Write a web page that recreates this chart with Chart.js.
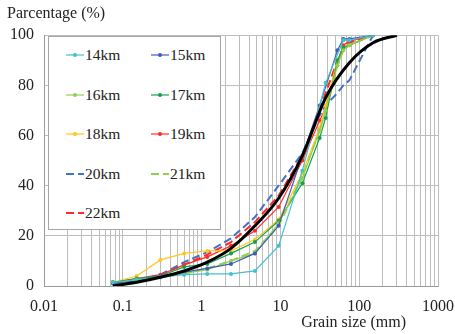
<!DOCTYPE html>
<html>
<head>
<meta charset="utf-8">
<script src="https://cdn.jsdelivr.net/npm/chart.js@4"></script>
<style>
  body { margin: 0; background: #fff; }
  #wrap { position: relative; width: 455px; height: 334px; }
  #legend { position: absolute; left: 48px; top: 36px; width: 173px; height: 194px; background: #fff;
            border: 1px solid #a6a6a6; box-sizing: border-box; }
  .item { position: absolute; height: 20px; display: flex; align-items: center;
          font-family: "Liberation Serif", serif; font-size: 15.5px; color: #222; white-space: nowrap; }
  .item svg { margin-right: 1px; }
</style>
</head>
<body>
<div id="wrap">
  <canvas id="chartGrain" width="455" height="334"></canvas>
  <div id="legend"></div>
</div>
<script>
// tamices (mm) y porcentaje que pasa
const sizes = [0.075, 0.15, 0.3, 0.6, 1.18, 2.36, 4.75, 9.5, 19, 31.5, 37.5, 53, 63, 75, 150];
const km14 = [1.5, 2.5, 3.5, 4.5, 4.8, 4.8, 6, 16, 46, null, 81, null, 98, 98, 100];
const km15 = [1, 2, 4, 5.5, 7, 8.8, 13, 24, 52, 72, null, 94, 98.5, 98.5, 100];
const km16 = [1, 2.5, 3.5, 5, 6.5, 10, 13, 25, 43, 62, 70, 88, 94, 96, 100];
const km17 = [1.5, 3, 4, 7.6, 8.8, 13, 17.5, 26, 41, 59, 67, 90, 95, 96, 100];
const km18 = [1.5, 4, 10.4, 13, 14, 14, 18.5, 26.5, 45, 63, 72, 90, 95, 96, 100];
const km19 = [1.5, 3, 4.5, 8.4, 11.6, 16, 22, 31.5, 50, 66, 71, 89, 96, 97.6, 100];
const km20 = [1, 2, 4.5, 9.5, 13.5, 19, 27.5, 40, 53, 68, 72, 77, 80, 82, 100];
const km21 = [1, 2, 3.5, 5, 7, 10, 14, 24, 44, 62, 70, 88, 94, 96, 100];
const km22 = [1, 2, 4.5, 8.5, 12.5, 17.5, 25.5, 36, 52, 70, 77, 90, 95, 97, 100];

// curva ajustada (negra)
const fitSizes = [0.075, 0.15, 0.3, 0.6, 1.18, 2.36, 4.75, 9.5, 19, 37.5, 75, 150, 300];
const fitValues = [0, 1.5, 3.5, 6, 9.5, 15, 24, 35, 52, 75, 89, 97, 100];

const seriesNames = ['14km', '15km', '16km', '17km', '18km', '19km', '20km', '21km', '22km'];
const seriesValues = [km14, km15, km16, km17, km18, km19, km20, km21, km22];
const seriesColors = ['#45c0cf', '#3f5cbc', '#92d050', '#16a04c', '#ffc81e', '#ff2a2a', '#4472c4', '#92d050', '#ff2a2a'];
const seriesDashed = [false, false, false, false, false, false, true, true, true];

const xTicks = [0.01, 0.1, 1, 10, 100, 1000];

const SERIF = '"Liberation Serif", "Times New Roman", serif';

function toPoints(xs, ys) {
  return xs.map((x, i) => ({ x, y: ys[i] })).filter(p => p.y !== null);
}

const datasets = seriesNames.map((name, i) => ({
  label: name,
  data: toPoints(sizes, seriesValues[i]),
  borderColor: seriesColors[i],
  backgroundColor: seriesColors[i],
  borderWidth: seriesDashed[i] ? 2 : 1.2,
  borderDash: seriesDashed[i] ? [8, 4] : [],
  pointRadius: seriesDashed[i] ? 0 : 2,
  pointBorderWidth: 0,
  tension: 0,
  order: 1
}));

datasets.push({
  label: 'fit',
  data: toPoints(fitSizes, fitValues),
  borderColor: '#000',
  backgroundColor: '#000',
  borderWidth: 3,
  pointRadius: 0,
  cubicInterpolationMode: 'monotone',
  order: 0
});

const ctx = document.getElementById('chartGrain');

new Chart(ctx, {
  type: 'line',
  data: { datasets },
  options: {
    responsive: false,
    animation: false,
    layout: { padding: { left: 7, right: 17, top: 0, bottom: 0 } },
    plugins: {
      legend: { display: false },
      tooltip: { enabled: false },
      title: {
        display: true,
        text: 'Parcentage (%)',
        align: 'start',
        color: '#222',
        font: { family: SERIF, size: 16, weight: 'normal' },
        padding: { top: 4, bottom: 12 }
      }
    },
    scales: {
      x: {
        type: 'logarithmic',
        min: 0.01,
        max: 1000,
        afterBuildTicks: (scale) => {
          const ticks = [];
          xTicks.forEach((p, k) => {
            ticks.push({ value: p });
            if (k < xTicks.length - 1) {
              for (let m = 2; m <= 9; m++) ticks.push({ value: m * p });
            }
          });
          scale.ticks = ticks;
        },
        afterFit: (scale) => {
          scale.height = 48;
          scale.paddingLeft = 0;
          scale.paddingRight = 0;
        },
        grid: { color: '#bdbdbd', lineWidth: 1, drawTicks: false },
        border: { color: '#9a9a9a' },
        ticks: {
          autoSkip: false,
          maxRotation: 0,
          padding: 11,
          color: '#222',
          font: { family: SERIF, size: 16 },
          callback: function(value) {
            const idx = xTicks.findIndex(p => Math.abs(p - value) < p * 1e-6);
            return idx >= 0 ? String(xTicks[idx]) : '';
          }
        },
        title: {
          display: true,
          text: 'Grain size (mm)        ',
          align: 'end',
          color: '#222',
          font: { family: SERIF, size: 16 },
          padding: { top: 1, bottom: 2 }
        }
      },
      y: {
        min: 0,
        max: 100,
        afterFit: (scale) => { scale.width = 37; },
        grid: { color: '#bdbdbd', lineWidth: 1, drawTicks: false },
        border: { color: '#9a9a9a' },
        ticks: {
          stepSize: 20,
          padding: 10,
          color: '#222',
          font: { family: SERIF, size: 16 }
        }
      }
    }
  }
});

// leyenda en HTML, dos columnas dentro del área del gráfico
const legendBox = document.getElementById('legend');
seriesNames.forEach((name, i) => {
  const col = i % 2;
  const row = Math.floor(i / 2);
  const item = document.createElement('div');
  item.className = 'item';
  item.style.left = (17 + col * 85) + 'px';
  item.style.top = (8 + row * 39.5) + 'px';
  const color = seriesColors[i];
  const line = seriesDashed[i]
    ? `<line x1="0" y1="4" x2="18" y2="4" stroke="${color}" stroke-width="2" stroke-dasharray="8,4"/>`
    : `<line x1="0" y1="4" x2="18" y2="4" stroke="${color}" stroke-width="1.2"/><circle cx="9" cy="4" r="2" fill="${color}"/>`;
  item.innerHTML = `<svg width="18" height="8">${line}</svg><span>${name}</span>`;
  legendBox.appendChild(item);
});
</script>
</body>
</html>
